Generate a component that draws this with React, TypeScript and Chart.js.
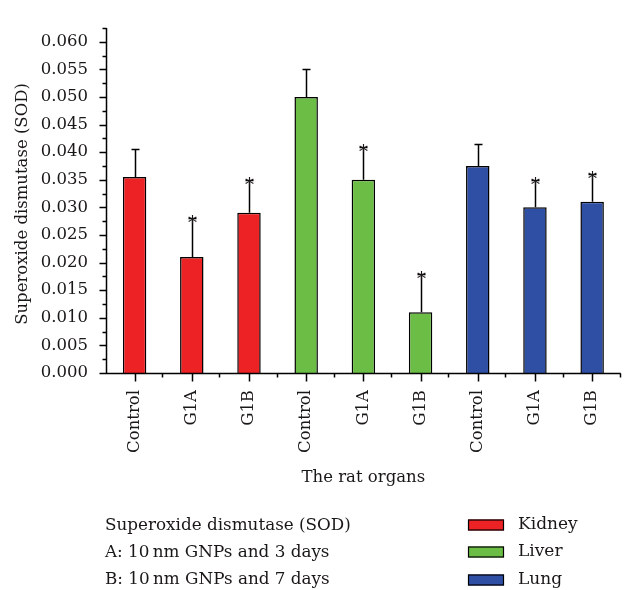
import React, { useEffect, useRef } from "react";
import { Chart, registerables } from "chart.js";

Chart.register(...registerables);

const categories = ["Control", "G1A", "G1B", "Control", "G1A", "G1B", "Control", "G1A", "G1B"];
const kidney = [0.0355, 0.021, 0.029, null, null, null, null, null, null];
const liver = [null, null, null, 0.05, 0.035, 0.011, null, null, null];
const lung = [null, null, null, null, null, null, 0.0375, 0.03, 0.031];
const errorTop = [0.0405, 0.028, 0.035, 0.055, 0.041, 0.018, 0.0415, 0.035, 0.036];
const significant = [false, true, true, false, true, true, false, true, true];
const yMax = 0.0625;
const yStep = 0.0025;
const xTitle = "The rat organs";
const yTitle = "Superoxide dismutase (SOD)";
const noteLines = ["Superoxide dismutase (SOD)", "A: 10\u2009nm GNPs and 3 days", "B: 10\u2009nm GNPs and 7 days"];

const FONT = "'DejaVu Serif', 'Liberation Serif', serif";
const TEXT = "#1a1718";

const drawPlugin = {
  id: "custom",
  afterDatasetsDraw(chart: any) {
    const ctx = chart.ctx;
    const x = chart.scales.x;
    const y = chart.scales.y;
    const area = chart.chartArea;
    ctx.save();
    ctx.strokeStyle = "#000";
    ctx.fillStyle = TEXT;
    ctx.lineWidth = 1.5;
    // error bars + asterisks
    chart.data.datasets.forEach((ds: any, di: number) => {
      const meta = chart.getDatasetMeta(di);
      ds.data.forEach((v: any, i: number) => {
        if (v == null) return;
        const el = meta.data[i];
        const cx = Math.round(el.x) + 0.5;
        const yv = y.getPixelForValue(v);
        const ye = Math.round(y.getPixelForValue(errorTop[i])) + 0.5;
        ctx.beginPath();
        ctx.moveTo(cx, yv);
        ctx.lineTo(cx, ye);
        ctx.moveTo(cx - 4, ye);
        ctx.lineTo(cx + 4, ye);
        ctx.stroke();
        if (significant[i]) {
          ctx.font = `18px ${FONT}`;
          ctx.textAlign = "center";
          ctx.textBaseline = "alphabetic";
          ctx.fillText("*", cx, ye + 10);
        }
      });
    });
    // axes
    ctx.lineWidth = 1.5;
    ctx.beginPath();
    const ax = Math.round(area.left) + 0.5;
    const ay = Math.round(area.bottom) + 0.5;
    ctx.moveTo(ax, area.top);
    ctx.lineTo(ax, ay);
    ctx.moveTo(ax - 3, ay);
    ctx.lineTo(area.right, ay);
    // y ticks
    for (let k = 0; k <= Math.round(yMax / yStep); k++) {
      const v = k * yStep;
      const py = Math.round(y.getPixelForValue(v)) + 0.5;
      const len = k % 2 === 0 ? 7 : 4;
      ctx.moveTo(ax - len, py);
      ctx.lineTo(ax, py);
    }
    // x ticks
    const n = categories.length;
    for (let i = 0; i < n; i++) {
      const px = Math.round(x.getPixelForValue(i)) + 0.5;
      ctx.moveTo(px, ay);
      ctx.lineTo(px, ay + 8);
    }
    const w = (area.right - area.left) / n;
    for (let i = 1; i <= n; i++) {
      const px = Math.round(area.left + i * w) - 0.5;
      ctx.moveTo(px, ay);
      ctx.lineTo(px, ay + 4);
    }
    ctx.stroke();

    // titles
    ctx.fillStyle = TEXT;
    ctx.font = `16.5px ${FONT}`;
    ctx.textAlign = "center";
    ctx.textBaseline = "middle";
    ctx.fillText(xTitle, (area.left + area.right) / 2, 478);
    ctx.save();
    ctx.translate(23, 204);
    ctx.rotate(-Math.PI / 2);
    ctx.fillText(yTitle, 0, 0);
    ctx.restore();

    // notes
    ctx.textAlign = "left";
    ctx.font = `16.8px ${FONT}`;
    const rows = [526, 553, 580];
    noteLines.forEach((t, i) => ctx.fillText(t, 105, rows[i]));

    // legend
    const legRows = [525, 552, 580];
    chart.data.datasets.forEach((ds: any, i: number) => {
      const cy = legRows[i];
      ctx.fillStyle = ds.backgroundColor;
      ctx.fillRect(468, cy - 5.5, 36, 11);
      ctx.lineWidth = 1.2;
      ctx.strokeStyle = "#000";
      ctx.strokeRect(468.5, cy - 5, 35, 10);
      ctx.fillStyle = TEXT;
      ctx.font = `17px ${FONT}`;
      ctx.fillText(ds.label, 518, cy);
    });
    ctx.restore();
  },
};

export default function App() {
  const ref = useRef<HTMLCanvasElement | null>(null);
  useEffect(() => {
    if (!ref.current) return;
    const mk = (label: string, data: any[], color: string) => ({
      label,
      data,
      backgroundColor: color,
      borderColor: "#000",
      borderWidth: 1.5,
      borderSkipped: "bottom",
      grouped: false,
      barPercentage: 0.41,
      categoryPercentage: 1,
    });
    const chart = new Chart(ref.current, {
      type: "bar",
      data: {
        labels: categories,
        datasets: [
          mk("Kidney", kidney, "#ED2224"),
          mk("Liver", liver, "#6BBD45"),
          mk("Lung", lung, "#2E4FA3"),
        ],
      },
      options: {
        animation: false,
        responsive: false,
        maintainAspectRatio: false,
        layout: { padding: { left: 0, top: 13, right: 1, bottom: 0 } },
        plugins: { legend: { display: false }, tooltip: { enabled: false } },
        scales: {
          x: {
            grid: { display: false, drawTicks: false },
            border: { display: false },
            ticks: {
              autoSkip: false,
              minRotation: 90,
              maxRotation: 90,
              padding: 17,
              color: TEXT,
              font: { family: FONT, size: 16.5 },
            },
            afterFit: (s: any) => {
              s.height = 217;
            },
          },
          y: {
            min: 0,
            max: yMax,
            grid: { display: false, drawTicks: false },
            border: { display: false },
            ticks: {
              stepSize: yStep,
              padding: 18,
              color: TEXT,
              font: { family: FONT, size: 16.5 },
              callback: (v: any) => {
                const k = Math.round(Number(v) / yStep);
                return k % 2 === 0 ? (k * yStep).toFixed(3) : "";
              },
            },
            afterFit: (s: any) => {
              s.width = 106;
            },
          },
        },
      },
      plugins: [drawPlugin],
    });
    return () => chart.destroy();
  }, []);
  return (
    <div style={{ position: "fixed", left: 0, top: 0, width: 629, height: 590, background: "#fff" }}>
      <canvas ref={ref} width={629} height={590} />
    </div>
  );
}
